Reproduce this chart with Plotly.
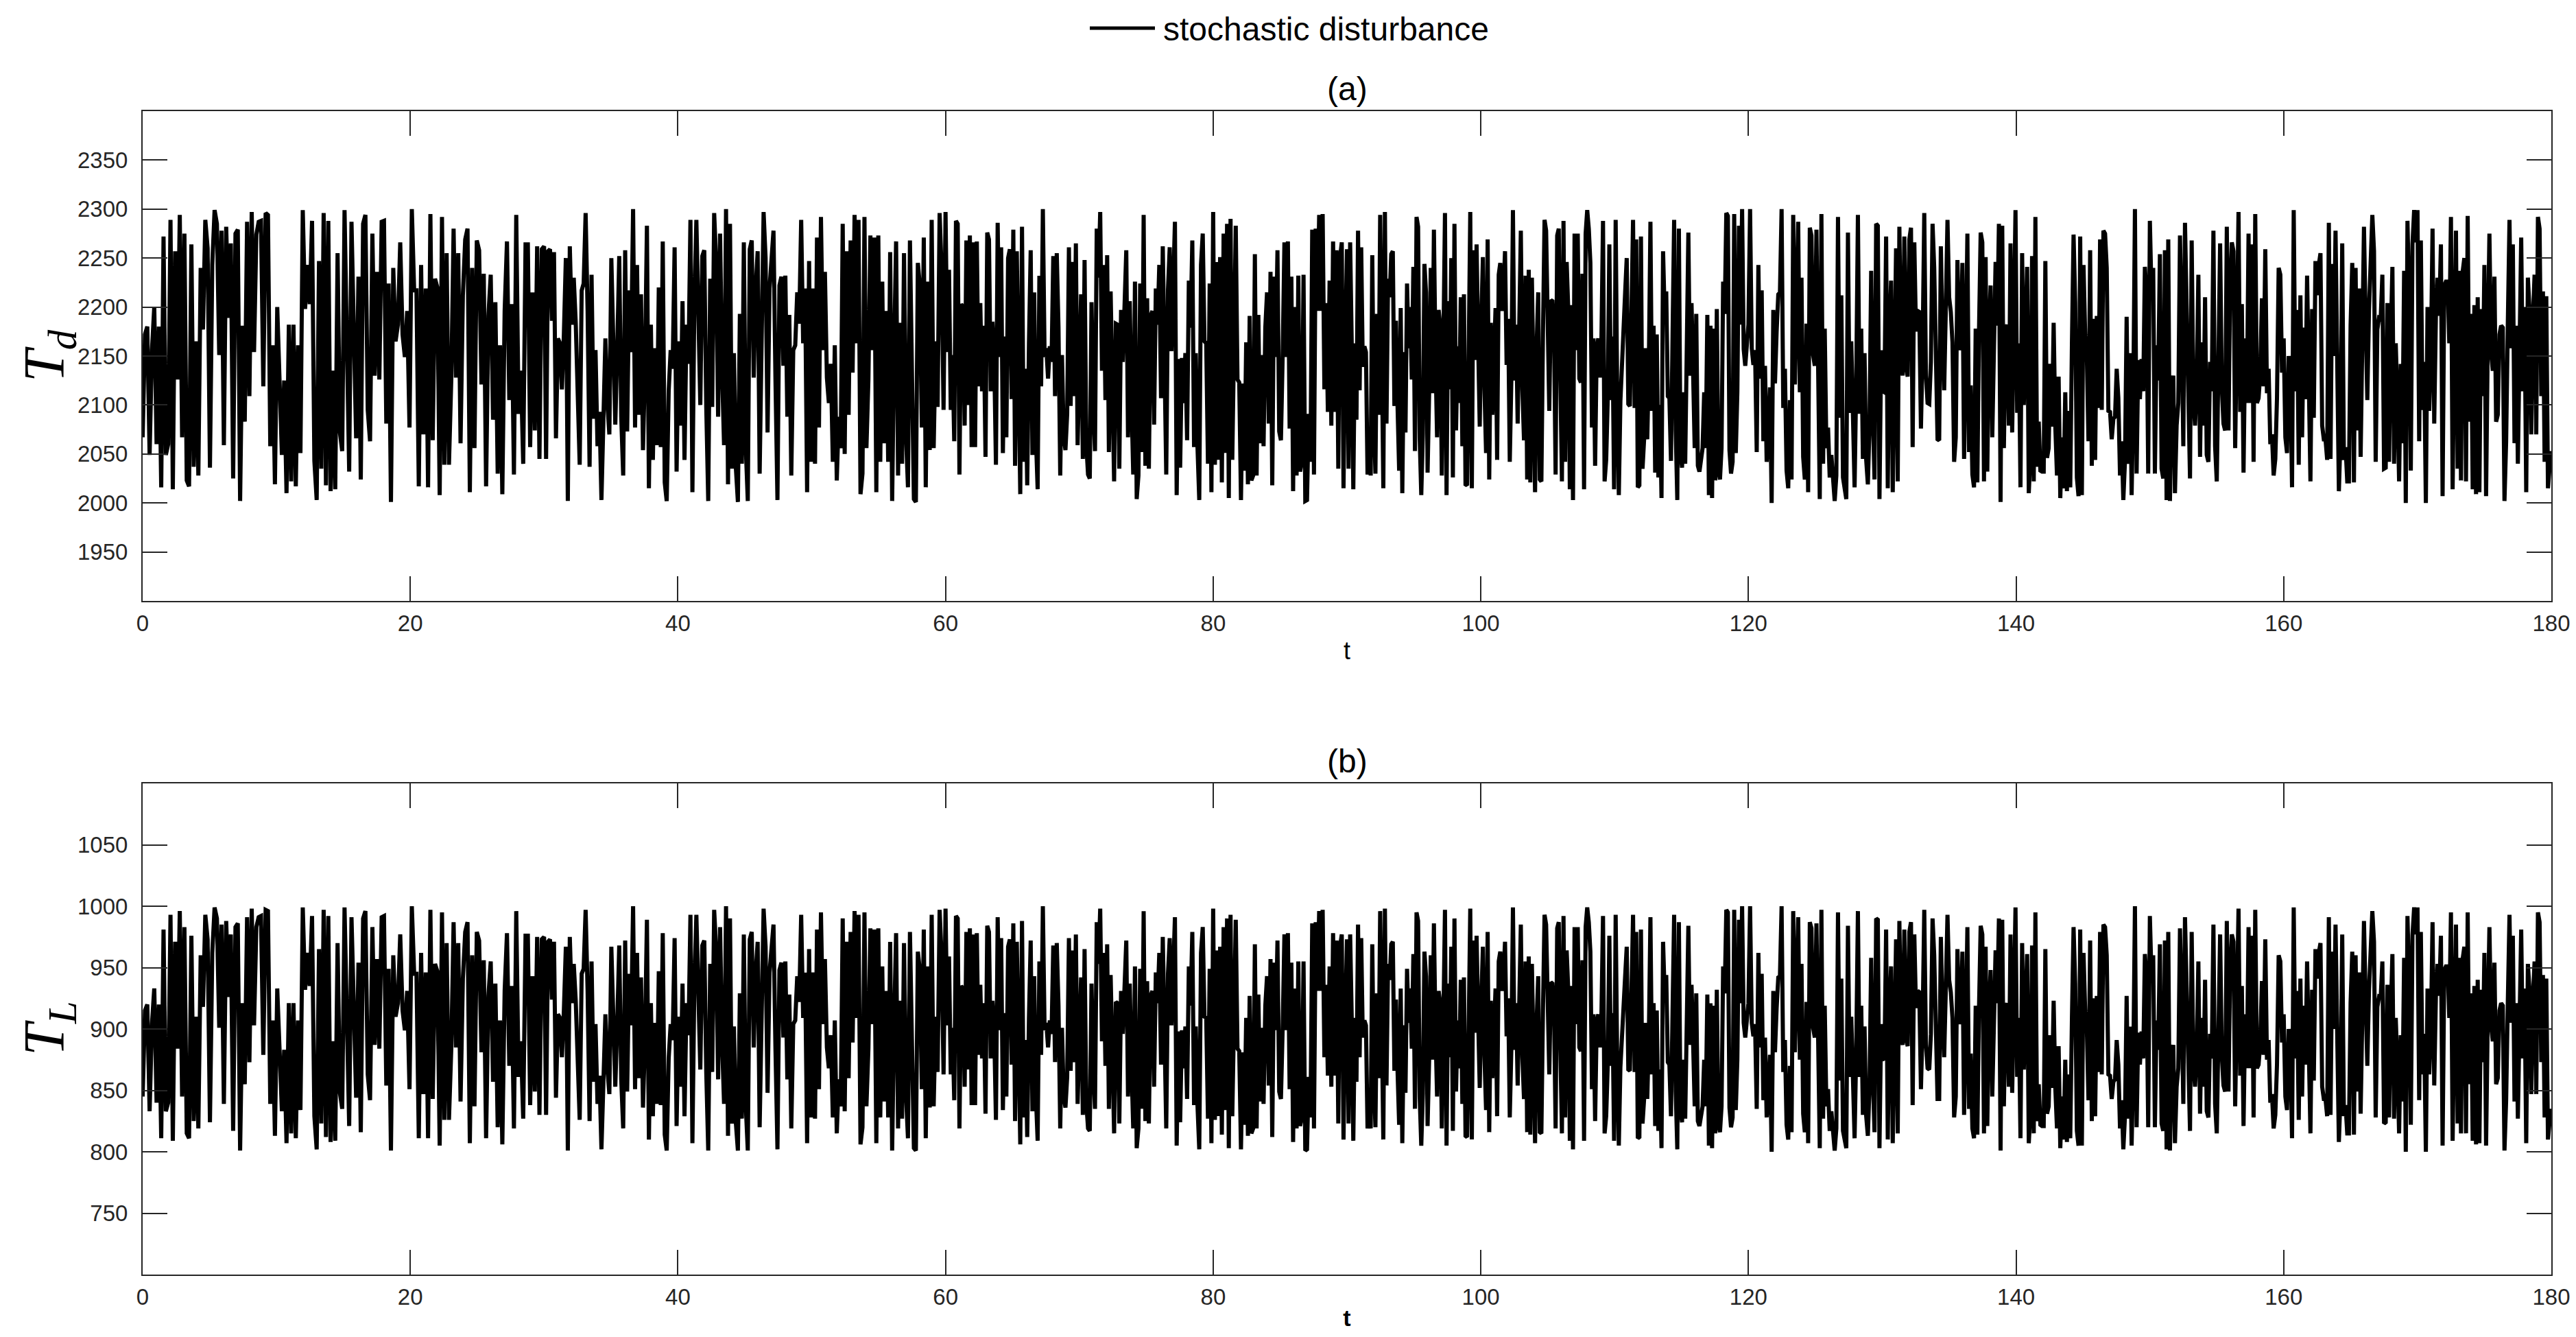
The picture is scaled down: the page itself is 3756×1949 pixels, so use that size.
import numpy as np
import plotly.graph_objects as go

# ---------------- data ----------------
seg_bounds = [0, 30, 60, 90, 120, 150, 180]

td_seg1 = [2067,2172,2180,2049,2156,2200,2060,2180,2016,2272,2049,2060,2289,2014,2257,2126,2294,2067,2275,2023,
           2017,2264,2037,2165,2028,2240,2177,2289,2260,2036,2243,2299,2285,2151,2278,2059,2282,2189,2265,2025,
           2275,2279,2002,2181,2083,2287,2109,2297,2154,2274,2287,2288,2119,2296,2294,2058,2161,2019,2200,2130,
           2049,2125,2010,2182,2022,2182,2017,2161,2051,2299,2198,2243,2203,2288,2043,2003,2247,2035,2296,2018,
           2288,2012,2135,2014,2255,2072,2053,2299,2182,2032,2287,2161,2066,2231,2024,2285,2294,2095,2063,2275,
           2130,2236,2126,2287,2288,2081,2224,2001,2240,2165,2182,2266,2172,2149,2196,2077,2300,2217,2217,2017,
           2243,2070,2219,2016,2295,2064,2229,2220,2008,2292,2039,2255,2039,2126,2280,2128,2255,2061,2212,2269,
           2280,2011,2240,2056,2268,2258,2121,2234,2017,2191,2233,2085,2205,2030,2161,2009,2196,2267,2105,2203,
           2029,2294,2091,2135,2040,2264,2264,2057,2215,2074,2262,2045,2259]
td_seg2 = [2262,2045,2257,2259,2186,2256,2066,2168,2163,2116,2172,2250,2002,2262,2182,2230,2184,2102,2039,2217,
           2224,2296,2196,2037,2233,2086,2156,2058,2093,2003,2070,2168,2102,2070,2250,2149,2080,2158,2252,2088,
           2028,2258,2073,2217,2154,2300,2077,2243,2090,2213,2054,2137,2283,2015,2182,2044,2158,2059,2220,2057,
           2267,2021,2002,2114,2156,2137,2261,2032,2165,2079,2206,2044,2182,2142,2289,2011,2207,2289,2196,2100,
           2252,2258,2098,2002,2229,2098,2296,2247,2088,2275,2135,2059,2300,2019,2285,2035,2153,2035,2001,2193,
           2040,2266,2056,2002,2259,2268,2128,2219,2257,2030,2165,2297,2250,2072,2219,2243,2278,2126,2003,2222,
           2231,2140,2232,2088,2192,2028,2156,2161,2215,2183,2289,2163,2219,2011,2247,2042,2219,2040,2271,2077,
           2292,2156,2236,2128,2102,2142,2042,2161,2023,2088,2056,2285,2050,2257,2090,2268,2133,2294,2163,2289,
           2009,2030,2292,2056,2126,2273,2156,2271,2011,2273,2042,2226,2061,2196,2042,2256,2002,2156,2267,2028,
           2184,2040,2255,2070,2016,2268,2093,2004,2001,2245,2222,2077,2271,2016,2226,2054,2289,2056,2165,2098,
           2296,2238,2095]
td_seg3 = [2297,2154,2238,2095,2151,2063,2288,2285,2029,2203,2200,2079,2268,2100,2273,2057,2266,2057,2267,2119,
           2204,2114,2181,2047,2276,2269,2114,2185,2149,2039,2286,2149,2261,2051,2170,2067,2250,2259,2106,2279,
           2038,2257,2112,2009,2282,2042,2137,2018,2163,2258,2049,2215,2067,2014,2232,2119,2300,2149,2158,2127,
           2160,2144,2252,2109,2255,2179,2028,2151,2067,2054,2091,2261,2099,2246,2109,2265,2059,2149,2213,2045,
           2248,2060,2029,2025,2205,2100,2053,2280,2230,2297,2135,2243,2105,2253,2052,2216,2106,2022,2183,2182,
           2035,2197,2144,2207,2258,2067,2206,2105,2029,2226,2004,2028,2224,2052,2294,2038,2209,2035,2191,2196,
           2080,2219,2182,2243,2107,2262,2126,2029,2218,2261,2155,2215,2287,2008,2147,2036,2148,2102,2153,2064,
           2227,2179,2268,2057,2153,2056,2003,2243,2275,2165,2163,2040,2224,2011,2297,2039,2246,2044,2251,2021,
           2275,2051,2285,2005,2290,2044,2172,2283,2126,2123,2003,2122,2033,2164,2019,2191,2023,2028,2254,2028,
           2192,2061,2151,2058,2179,2215,2081,2236,2018,2231,2149,2258,2073,2064,2151,2266,2149,2267,2076,2231,
           2012,2200,2028,2232,2032,2042,2233,2002,2003,2091,2042,2279,2029,2280,2196,2294,2196,2295,2116,2204,
           2093,2227,2079,2267,2093,2258,2035,2250,2266,2015,2163]
td_seg4 = [2259,2035,2266,2163,2014,2163,2085,2278,2115,2261,2139,2160,2154,2029,2070,2028,2253,2088,2030,2193,
           2090,2294,2088,2015,2297,2081,2229,2210,2254,2257,2099,2186,2099,2033,2199,2010,2154,2072,2224,2158,
           2200,2126,2241,2053,2292,2282,2067,2008,2070,2244,2215,2031,2114,2240,2112,2279,2149,2067,2197,2181,
           2028,2207,2296,2008,2206,2116,2250,2026,2285,2074,2160,2102,2210,2058,2213,2019,2018,2149,2297,2015,
           2258,2146,2264,2163,2078,2188,2251,2116,2051,2269,2024,2184,2090,2146,2199,2044,2233,2245,2196,2215,
           2257,2141,2188,2042,2126,2299,2125,2182,2081,2181,2278,2116,2064,2232,2024,2238,2021,2230,2142,2011,
           2161,2215,2024,2022,2172,2289,2278,2172,2094,2207,2206,2175,2029,2273,2280,2126,2022,2288,2042,2246,
           2198,2014,2202,2003,2275,2156,2275,2127,2123,2234,2014,2275,2299,2280,2245,2077,2168,2038,2157,2168,
           2128,2168,2288,2022,2044,2107,2264,2105,2170,2014,2289,2105,2008,2104,2148,2184,2215,2250,2101,2099,
           2183,2289,2097,2269,2016,2018,2272,2035,2065,2158,2065,2141,2287,2094,2181,2031,2172,2026,2100,2005,
           2257,2192,2216,2109,2107,2043,2172,2289,2074,2003,2280,2053,2036,2113,2040,2172,2276,2130,2204,2133,
           2056,2193,2038,2032,2043,2056,2113,2056,2192,2008,2181,2005,2178,2023,2198,2033,2024,2056,2226,2193,
           2296,2293,2054,2030,2042,2295,2051,2113,2283,2182,2300,2157,2140,2156]
td_seg5 = [2182,2300,2158,2141,2156,2052,2243,2127,2217,2063,2140,2042,2070,2118,2000,2197,2122,2175,2213,2215,
           2300,2097,2137,2033,2015,2105,2024,2294,2121,2205,2287,2113,2230,2047,2024,2183,2011,2281,2273,2151,
           2140,2279,2140,2004,2295,2040,2178,2056,2077,2026,2049,2024,2002,2028,2292,2087,2212,2026,2012,2004,
           2276,2092,2165,2068,2016,2126,2294,2091,2178,2045,2153,2044,2019,2079,2237,2091,2024,2285,2283,2004,
           2156,2114,2113,2272,2015,2176,2227,2011,2144,2260,2022,2282,2147,2130,2272,2140,2129,2269,2281,2057,
           2266,2175,2196,2195,2076,2158,2296,2130,2102,2101,2144,2285,2240,2139,2065,2064,2262,2170,2115,2199,
           2289,2210,2195,2164,2042,2067,2248,2169,2156,2245,2045,2149,2275,2052,2120,2029,2016,2178,2021,2176,
           2276,2266,2022,2251,2032,2176,2222,2067,2191,2246,2181,2285,2001,2283,2056,2175,2182,2079,2265,2072,
           2183,2299,2092,2163,2016,2255,2100,2176,2241,2010,2049,2252,2022,2292,2037,2083,2033,2032,2032,2247,
           2046,2056,2142,2078,2184,2078,2028,2129,2005,2067,2015,2113,2012,2094,2016,2161,2274,2205,2026,2007,
           2272,2008,2243,2172,2151,2063,2258,2038,2188,2044,2191,2097,2269,2095,2278,2275,2240,2094,2093,2065,
           2086,2088,2137,2107,2028,2063,2003,2043,2190,2040,2153,2008,2107,2300,2030,2146,2106,2147,2114,2241,
           2212,2030]
td_seg6 = [2288,2212,2240,2030,2161,2125,2254,2035,2025,2258,2003,2269,2002,2116,2130,2010,2079,2102,2273,2179,
           2058,2286,2196,2137,2025,2268,2107,2079,2121,2233,2047,2164,2079,2210,2049,2042,2144,2114,2278,2058,
           2022,2144,2265,2119,2081,2074,2282,2074,2222,2266,2257,2056,2219,2297,2093,2203,2031,2168,2102,2275,
           2102,2264,2042,2295,2102,2107,2133,2209,2119,2259,2112,2137,2060,2070,2028,2045,2107,2240,2233,2133,
           2168,2067,2051,2150,2133,2016,2299,2114,2197,2039,2212,2067,2179,2106,2232,2106,2022,2198,2087,2247,
           2212,2243,2255,2079,2065,2065,2044,2286,2045,2244,2150,2278,2095,2012,2070,2265,2044,2057,2022,2022,
           2181,2245,2021,2240,2074,2219,2047,2149,2282,2189,2105,2196,2266,2294,2257,2042,2177,2189,2188,2233,
           2035,2036,2204,2042,2168,2241,2040,2163,2105,2022,2142,2061,2237,2000,2288,2212,2033,2264,2299,2266,
           2299,2063,2268,2095,2144,2000,2200,2094,2147,2280,2081,2191,2230,2191,2264,2007,2222,2226,2226,2163,
           2292,2014,2158,2278,2035,2237,2023,2236,2250,2022,2293,2083,2193,2014,2202,2009,2210,2011,2198,2109,
           2243,2007,2162,2275,2154,2135,2231,2083,2090,2172,2181,2179,2002,2063,2183,2289,2158,2264,2061,2181,
           2040,2196,2271,2114,2200,2011,2230,2196,2070,2189,2233,2070,2292,2280,2109,2216,2042,2211,2015,2037,
           2053]

tl_seg1 = [845,915,920,833,904,933,840,920,811,981,833,840,993,809,971,884,996,845,983,815,
           811,976,825,910,819,960,918,993,973,824,962,999,990,901,985,839,988,926,977,817,
           983,986,801,921,855,991,873,998,903,983,991,992,879,997,996,839,907,813,933,887,
           833,883,807,921,815,921,811,907,834,999,932,962,935,992,829,802,965,823,997,812,
           992,808,890,809,970,848,835,999,921,821,991,907,844,954,816,990,996,863,842,983,
           887,957,884,991,992,854,949,801,960,910,921,977,915,899,931,851,1000,945,945,811,
           962,847,946,811,997,843,953,947,805,995,826,970,826,884,987,885,970,841,941,979,
           987,807,960,837,979,972,881,956,811,927,955,857,937,820,907,806,931,978,870,935,
           819,996,861,890,827,976,976,838,943,849,975,830,973]
tl_seg2 = [975,830,971,973,924,971,844,912,909,877,915,967,801,975,921,953,923,868,826,945,
           949,997,931,825,955,857,904,839,862,802,847,912,868,847,967,899,853,905,968,859,
           819,972,849,945,903,1000,851,962,860,942,836,891,989,810,921,829,905,839,947,838,
           978,814,801,876,904,891,974,821,910,853,937,829,921,895,993,807,938,993,931,867,
           968,972,865,801,953,865,997,965,859,983,890,839,1000,813,990,823,902,823,801,929,
           827,977,837,801,973,979,885,946,971,820,910,998,967,848,946,962,985,884,802,948,
           954,893,955,859,928,819,904,907,943,922,993,909,946,807,965,828,946,827,981,851,
           995,904,957,885,868,895,828,907,815,859,837,990,833,971,860,979,889,996,909,993,
           806,820,995,837,884,982,904,981,807,982,828,951,841,931,828,971,801,904,978,819,
           923,827,970,847,811,979,862,803,801,963,948,851,981,811,951,836,993,837,910,865,
           997,959,863]
tl_seg3 = [998,903,959,863,901,842,992,990,819,935,933,853,979,867,982,838,977,838,978,879,
           936,876,921,831,984,979,876,923,899,826,991,899,974,834,913,845,967,973,871,986,
           825,971,875,806,988,828,891,812,909,972,833,943,845,809,955,879,1000,899,905,885,
           907,896,968,873,970,919,819,901,845,836,861,974,866,964,873,977,839,899,942,830,
           965,840,819,817,937,867,835,987,953,998,890,962,870,969,835,944,871,815,922,921,
           823,931,896,938,972,845,937,870,819,951,803,819,949,835,996,825,939,823,927,931,
           853,946,921,962,871,975,884,819,945,974,903,943,991,805,898,824,899,868,902,843,
           951,919,979,838,902,837,802,962,983,910,909,827,949,807,998,826,964,829,967,814,
           983,834,990,803,993,829,915,989,884,882,802,881,822,909,813,927,815,819,969,819,
           928,841,901,839,919,943,854,957,812,954,899,972,849,843,901,977,899,978,851,954,
           808,933,819,955,821,828,955,801,802,861,828,986,819,987,931,996,931,997,877,936,
           862,951,853,978,862,972,823,967,977,810,909]
tl_seg4 = [973,823,977,909,809,909,857,985,877,974,893,907,903,819,847,819,969,859,820,929,
           860,996,859,810,998,854,953,940,969,971,866,924,866,822,933,807,903,848,949,905,
           933,884,961,835,995,988,845,805,847,963,943,821,876,960,875,986,899,845,931,921,
           819,938,997,805,937,877,967,817,990,849,907,868,940,839,942,813,812,899,998,810,
           972,897,976,909,852,925,967,877,834,979,816,923,860,897,933,829,955,963,931,943,
           971,894,925,828,884,999,883,921,854,921,985,877,843,955,816,959,814,953,895,807,
           907,943,816,815,915,993,985,915,863,938,937,917,819,982,987,884,815,992,828,964,
           932,809,935,802,983,904,983,885,882,956,809,983,999,987,963,851,912,825,905,912,
           885,912,992,815,829,871,976,870,913,809,993,870,805,869,899,923,943,967,867,866,
           922,993,865,979,811,812,981,823,843,905,843,894,991,863,921,821,915,817,867,803,
           971,928,944,873,871,829,915,993,849,802,987,835,824,875,827,915,984,887,936,889,
           837,929,825,821,829,837,875,837,928,805,921,803,919,815,932,822,816,837,951,929,
           997,995,836,820,828,997,834,875,989,921,1000,905,893,904]
tl_seg5 = [921,1000,905,894,904,835,962,885,945,842,893,828,847,879,800,931,881,917,942,943,
           1000,865,891,822,810,870,816,996,881,937,991,875,953,831,816,922,807,987,982,901,
           893,986,893,803,997,827,919,837,851,817,833,816,801,819,995,858,941,817,808,803,
           984,861,910,845,811,884,996,861,919,830,902,829,813,853,958,861,816,990,989,803,
           904,876,875,981,810,917,951,807,896,973,815,988,898,887,981,893,886,979,987,838,
           977,917,931,930,851,905,997,887,868,867,896,990,960,893,843,843,975,913,877,933,
           993,940,930,909,828,845,965,913,904,963,830,899,983,835,880,819,811,919,814,917,
           984,977,815,967,821,917,948,845,927,964,921,990,801,989,837,917,921,853,977,848,
           922,999,861,909,811,970,867,917,961,807,833,968,815,995,825,855,822,821,821,965,
           831,837,895,852,923,852,819,886,803,845,810,875,808,863,811,907,983,937,817,805,
           981,805,962,915,901,842,972,825,925,829,927,865,979,863,985,983,960,863,862,843,
           857,859,891,871,819,842,802,829,927,827,902,805,871,1000,820,897,871,898,876,961,
           941,820]
tl_seg6 = [992,941,960,820,907,883,969,823,817,972,802,979,801,877,887,807,853,868,982,919,
           839,991,931,891,817,979,871,853,881,955,831,909,853,940,833,828,896,876,985,839,
           815,896,977,879,854,849,988,849,948,977,971,837,946,998,862,935,821,912,868,983,
           868,976,828,997,868,871,889,939,879,973,875,891,840,847,819,830,871,960,955,889,
           912,845,834,900,889,811,999,876,931,826,941,845,919,871,955,871,815,932,858,965,
           941,962,970,853,843,843,829,991,830,963,900,985,863,808,847,977,829,838,815,815,
           921,963,814,960,849,946,831,899,988,926,870,931,977,996,971,828,918,926,925,955,
           823,824,936,828,912,961,827,909,870,815,895,841,958,800,992,941,822,976,999,977,
           999,842,979,863,896,800,933,863,898,987,854,927,953,927,976,805,948,951,951,909,
           995,809,905,985,823,958,815,957,967,815,995,855,929,809,935,806,940,807,932,873,
           962,805,908,983,903,890,954,855,860,915,921,919,801,842,922,993,905,976,841,921,
           827,931,981,876,933,807,953,931,847,926,955,847,995,987,873,944,828,941,810,825,
           835]

x_ticks = list(range(0, 181, 20))
td_ticks = [1950, 2000, 2050, 2100, 2150, 2200, 2250, 2300, 2350]
tl_ticks = [750, 800, 850, 900, 950, 1000, 1050]
td_range = [1900, 2400]
tl_range = [700, 1100]


def sample_times(segments):
    """Sampling instants: each read segment spans its 30 s window."""
    t = []
    for i, seg in enumerate(segments):
        last = i == len(segments) - 1
        t.extend(np.linspace(seg_bounds[i], seg_bounds[i + 1], len(seg), endpoint=last))
    return t


td_segments = [td_seg1, td_seg2, td_seg3, td_seg4, td_seg5, td_seg6]
tl_segments = [tl_seg1, tl_seg2, tl_seg3, tl_seg4, tl_seg5, tl_seg6]
t_d = sample_times(td_segments)
t_l = sample_times(tl_segments)
T_d = [v for seg in td_segments for v in seg]
T_L = [v for seg in tl_segments for v in seg]

# ---------------- figure ----------------
W, H = 3756, 1949
AX = "#262626"
SANS = "Liberation Sans, Arial, Helvetica, sans-serif"
SERIF = "Liberation Serif, Times New Roman, serif"
LW = 6

fig = go.Figure()
fig.add_trace(go.Scatter(x=t_d, y=T_d, mode="lines", name="stochastic disturbance",
                         line=dict(color="black", width=LW), xaxis="x", yaxis="y",
                         showlegend=False))
fig.add_trace(go.Scatter(x=t_l, y=T_L, mode="lines", name="stochastic disturbance",
                         line=dict(color="black", width=LW), xaxis="x2", yaxis="y2",
                         showlegend=False))

x_dom = [200 / W, 3712 / W]
ya_dom = [1 - 868 / H, 1 - 154 / H]
yb_dom = [1 - 1850 / H, 1 - 1134 / H]

common_axis = dict(showline=True, linecolor=AX, linewidth=2, mirror="ticks",
                   ticks="inside", ticklen=36, tickwidth=2, tickcolor=AX,
                   showgrid=False, zeroline=False, automargin=False,
                   tickfont=dict(family=SANS, size=33, color=AX))

fig.update_layout(
    width=W, height=H,
    margin=dict(l=0, r=0, t=0, b=0),
    paper_bgcolor="white", plot_bgcolor="white",
    xaxis=dict(domain=x_dom, anchor="y", range=[0, 180], tickvals=x_ticks,
               ticklabelstandoff=2,
               title=dict(text="t", font=dict(family=SANS, size=36, color="black"), standoff=10),
               **common_axis),
    yaxis=dict(domain=ya_dom, anchor="x", range=td_range, tickvals=td_ticks,
               ticklabelstandoff=13, **common_axis),
    xaxis2=dict(domain=x_dom, anchor="y2", range=[0, 180], tickvals=x_ticks,
                ticklabelstandoff=2,
                title=dict(text="<b>t</b>", font=dict(family=SANS, size=34, color="black"), standoff=2),
                **common_axis),
    yaxis2=dict(domain=yb_dom, anchor="x2", range=tl_range, tickvals=tl_ticks,
                ticklabelstandoff=13, **common_axis),
)

# y-axis titles (rotated, italic serif like the LaTeX labels)
for dom, label in [(ya_dom, "<i>T<sub>d</sub></i>"), (yb_dom, "<i>T<sub>L</sub></i>")]:
    fig.add_annotation(text=label, x=8 / W, y=(dom[0] + dom[1]) / 2, xref="paper", yref="paper",
                       xanchor="left", yanchor="middle", textangle=-90, showarrow=False,
                       font=dict(family=SERIF, size=84, color="black"))

# panel titles
cx = (x_dom[0] + x_dom[1]) / 2
for ytop, label in [(ya_dom[1], "(a)"), (yb_dom[1], "(b)")]:
    fig.add_annotation(text=label, x=cx, y=ytop, xref="paper", yref="paper",
                       xanchor="center", yanchor="bottom", showarrow=False, yshift=4,
                       font=dict(family=SANS, size=48, color="black"))

# legend (line sample + label) at the top centre
ly = 1 - 33 / H
fig.add_shape(type="line", xref="paper", yref="paper", x0=1581 / W, x1=1676 / W, y0=ly, y1=ly,
              line=dict(color="black", width=5))
fig.add_annotation(text="stochastic disturbance", x=1686 / W, y=ly, xref="paper", yref="paper",
                   xanchor="left", yanchor="middle", showarrow=False, yshift=-2,
                   font=dict(family=SANS, size=48, color="black"))

fig.write_html("out.html")
